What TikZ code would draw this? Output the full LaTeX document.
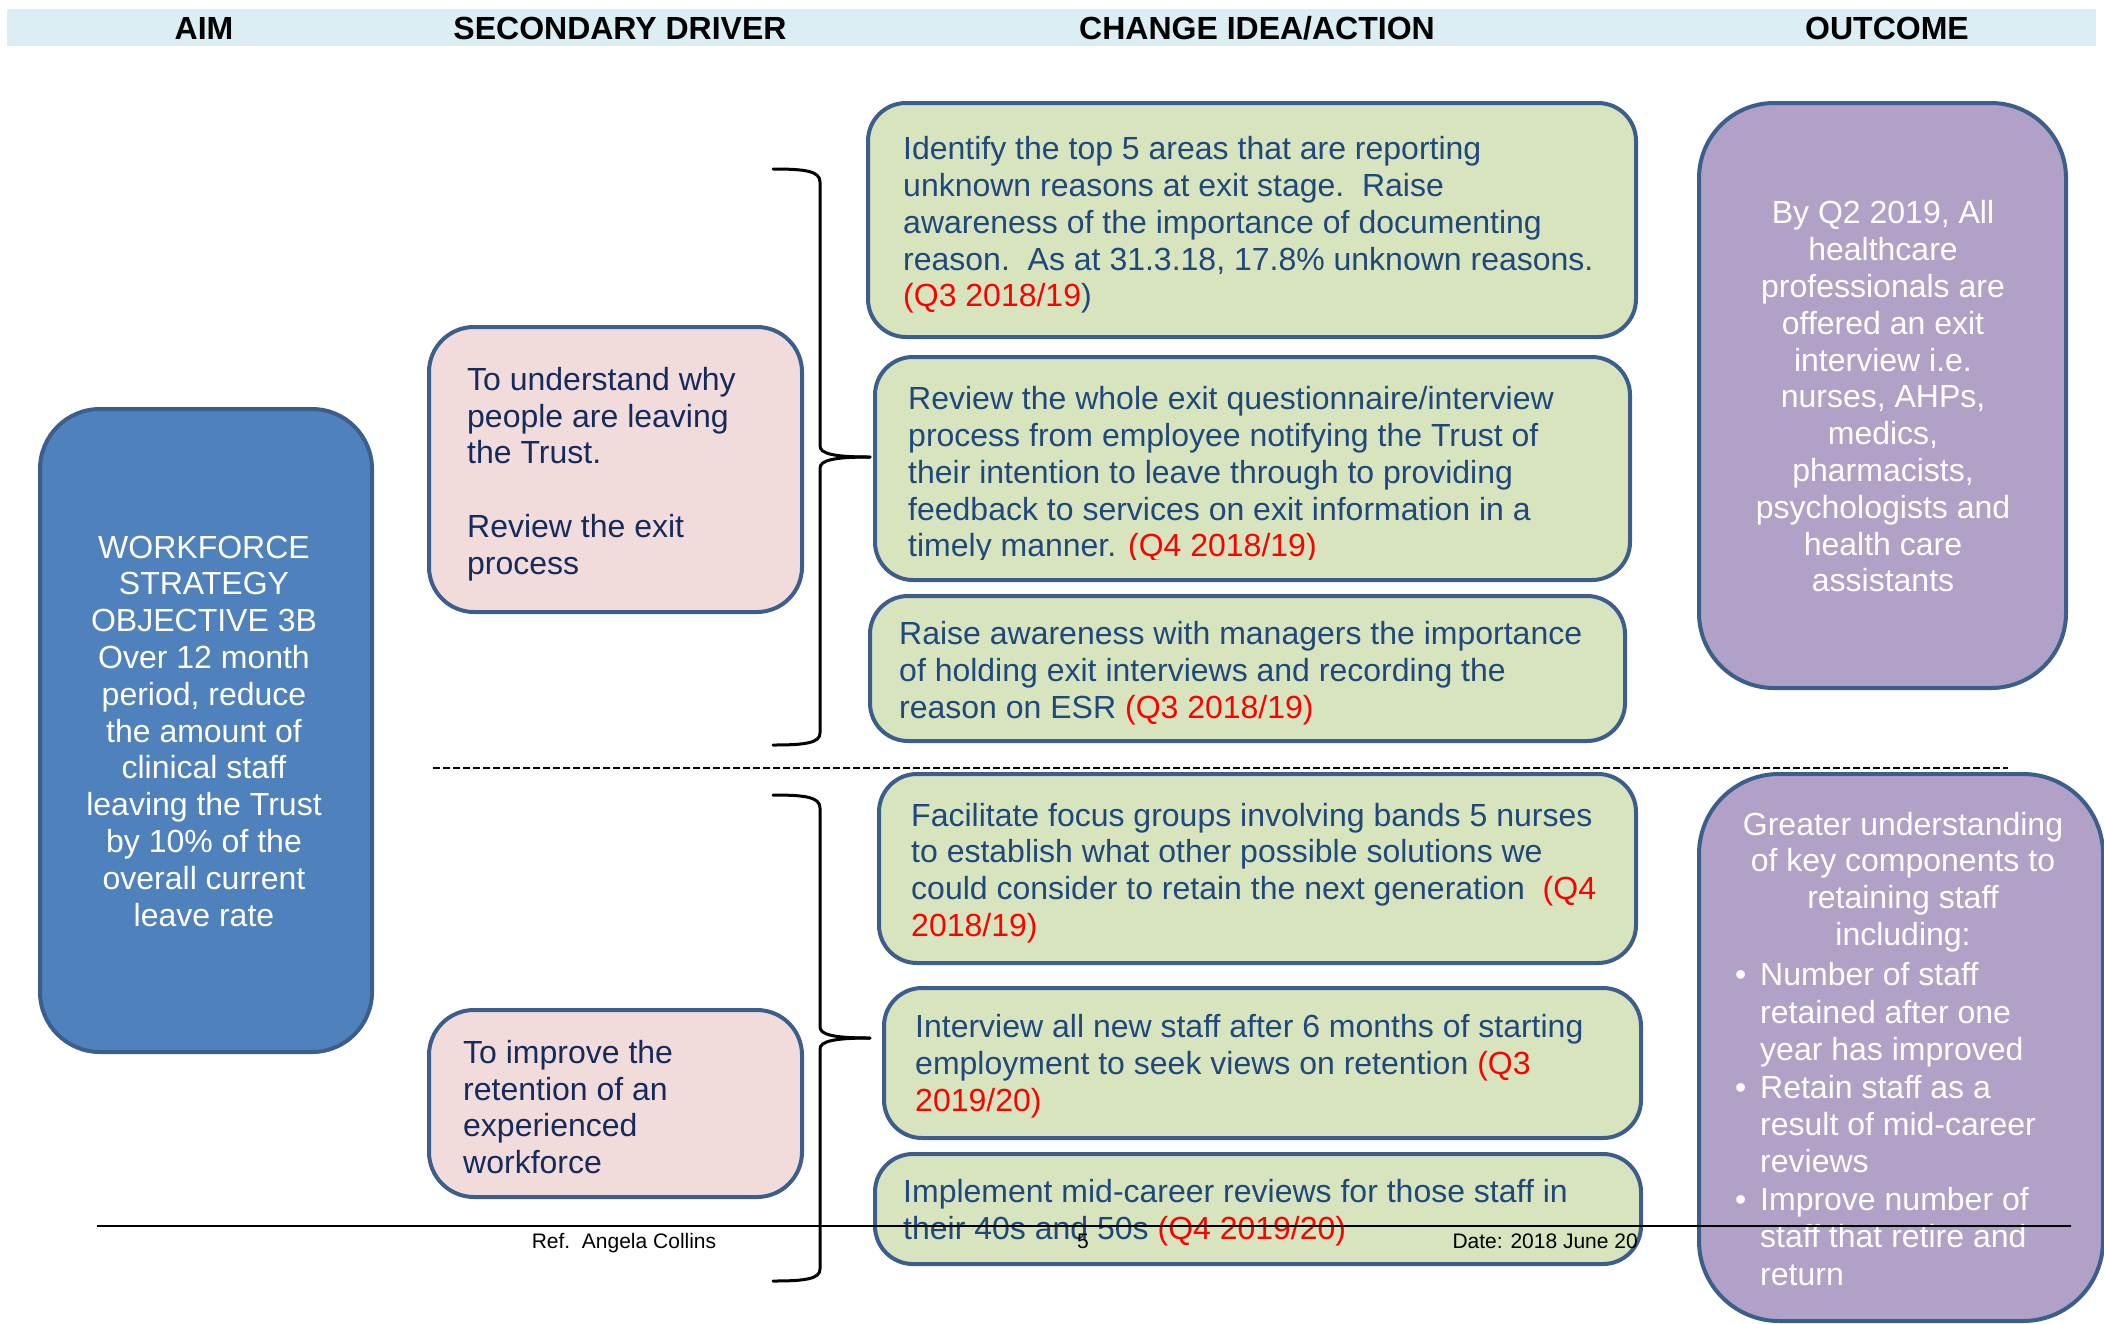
\documentclass[tikz,border=0pt]{standalone}
\usepackage{fontspec}
\setmainfont{Liberation Sans}
\definecolor{bandc}{HTML}{DBEEF3}
\definecolor{edgec}{HTML}{3B5E8C}
\definecolor{aimc}{HTML}{4F81BD}
\definecolor{pinkc}{HTML}{F2DCDB}
\definecolor{greenc}{HTML}{D7E4BD}
\definecolor{purplec}{HTML}{B2A1C7}
\definecolor{gtxt}{HTML}{1F497D}
\definecolor{ptxt}{HTML}{142B5C}
\definecolor{qred}{HTML}{FF0000}
\begin{document}
\begin{tikzpicture}[x=1pt,y=-1pt,
  card/.style={draw=edgec, line width=4pt, inner sep=0pt, rounded corners=#1},
  aimbox/.style={card=60pt, fill=aimc},
  drvbox/.style={card=45pt, fill=pinkc},
  ideabox/.style={card=38pt, fill=greenc},
  outbox/.style={card=75pt, fill=purplec},
  body/.style={inner sep=0pt, font=\fontsize{32}{36.8}\selectfont},
  ideatext/.style={body, align=left, anchor=west, text=gtxt},
  drvtext/.style={body, align=left, anchor=west, text=ptxt},
  whitetext/.style={body, align=center, text=white},
  head/.style={inner sep=0pt, font=\bfseries\fontsize{32}{36}\selectfont},
  foot/.style={inner sep=0pt, anchor=base, font=\fontsize{21}{24}\selectfont},
  bracket/.style={line width=3pt, line cap=round},
]
\useasboundingbox (0,0) rectangle (2104,1323);

% column header band
\fill[bandc] (7,9) rectangle (2096,46);
\node[head] (hAim) at (204,28) {AIM};
\node[head] (hDrv) at (620,28) {SECONDARY DRIVER};
\node[head] (hIdea) at (1257,28) {CHANGE IDEA/ACTION};
\node[head] (hOut) at (1887,28) {OUTCOME};

% aim
\node[aimbox, minimum width=332pt, minimum height=643pt] (aim) at (206,730.5) {};
\node[whitetext] (aimT) at (204,731) {WORKFORCE\\STRATEGY\\OBJECTIVE 3B\\Over 12 month\\period, reduce\\the amount of\\clinical staff\\leaving the Trust\\by 10\% of the\\overall current\\leave rate};

% secondary drivers
\node[drvbox, minimum width=373pt, minimum height=285pt] (drv1) at (615.5,469.5) {};
\node[drvtext] (drv1T) at (467,474) {To understand why\\people are leaving\\the Trust.\\[36.8pt]Review the exit\\process};
\node[drvbox, minimum width=373pt, minimum height=187pt] (drv2) at (615.5,1103.5) {};
\node[drvtext] (drv2T) at (463,1107) {To improve the\\retention of an\\experienced\\workforce};

% change ideas
\node[ideabox, minimum width=768pt, minimum height=234pt] (g1) at (1252,220) {};
\node[ideatext] (g1T) at (903,225) {Identify the top 5 areas that are reporting\\unknown reasons at exit stage.\ \ Raise\\awareness of the importance of documenting\\reason.\ \ As at 31.3.18, 17.8\% unknown reasons.\\\textcolor{qred}{(Q3 2018/19})};

\node[ideabox, minimum width=755pt, minimum height=223pt] (g2) at (1252.5,468.5) {};
\begin{scope}
  \clip (875,357) rectangle (1630,559);
  \node[ideatext] (g2T) at (908,475) {Review the whole exit questionnaire/interview\\process from employee notifying the Trust of\\their intention to leave through to providing\\feedback to services on exit information in a\\timely manner. \textcolor{qred}{(Q4 2018/19)}};
\end{scope}

\node[ideabox, minimum width=755pt, minimum height=145pt] (g3) at (1247.5,668.5) {};
\node[ideatext] (g3T) at (899,673) {Raise awareness with managers the importance\\of holding exit interviews and recording the\\reason on ESR \textcolor{qred}{(Q3 2018/19)}};

\node[ideabox, minimum width=757pt, minimum height=189pt] (g4) at (1257.5,868.5) {};
\node[ideatext] (g4T) at (911,873) {Facilitate focus groups involving bands 5 nurses\\to establish what other possible solutions we\\could consider to retain the next generation\ \ \textcolor{qred}{(Q4}\\\textcolor{qred}{2018/19)}};

\node[ideabox, minimum width=757pt, minimum height=150pt] (g5) at (1262.5,1063) {};
\node[ideatext] (g5T) at (915,1066) {Interview all new staff after 6 months of starting\\employment to seek views on retention \textcolor{qred}{(Q3}\\\textcolor{qred}{2019/20)}};

\node[ideabox, minimum width=766pt, minimum height=110pt] (g6) at (1258,1209) {};
\node[ideatext] (g6T) at (903,1213) {Implement mid-career reviews for those staff in\\their 40s and 50s \textcolor{qred}{(Q4 2019/20)}};

% outcomes
\node[outbox, minimum width=367pt, minimum height=585pt] (out1) at (1882.5,395.5) {};
\node[whitetext] (out1T) at (1883,396.5) {By Q2 2019, All\\healthcare\\professionals are\\offered an exit\\interview i.e.\\nurses, AHPs,\\medics,\\pharmacists,\\psychologists and\\health care\\assistants};

\node[outbox, card=80pt, minimum width=404pt, minimum height=547pt] (out2) at (1901,1047.5) {};
\node[whitetext] (out2T) at (1903,882) {Greater understanding\\of key components to\\retaining staff\\including:};
\node[inner sep=0pt, font=\fontsize{32}{37.4}\selectfont, align=left, anchor=west, text=white] (out2L) at (1760,1124) {%
\llap{\textbullet\hspace{14pt}}Number of staff\\retained after one\\year has improved\\%
\llap{\textbullet\hspace{14pt}}Retain staff as a\\result of mid-career\\reviews\\%
\llap{\textbullet\hspace{14pt}}Improve number of\\staff that retire and\\return};

% brackets gathering each group of change ideas
\coordinate (b1tip) at (870,457);
\coordinate (b2tip) at (870,1038);
\draw[bracket] (773,169) .. controls (805,169) and (820,171) .. (820,182)
  -- (820,446) .. controls (820,454) and (835,457) .. (b1tip);
\draw[bracket] (b1tip) .. controls (835,457) and (820,460) .. (820,468)
  -- (820,733) .. controls (820,743) and (805,745) .. (773,745);
\draw[bracket] (773,795) .. controls (805,795) and (820,797) .. (820,808)
  -- (820,1027) .. controls (820,1035) and (835,1038) .. (b2tip);
\draw[bracket] (b2tip) .. controls (835,1038) and (820,1041) .. (820,1049)
  -- (820,1269) .. controls (820,1279) and (805,1281) .. (773,1281);

% separator between the two driver groups
\draw[line width=2pt, dash pattern=on 7pt off 3pt] (433,768) -- (2008,768);

% page footer
\draw[line width=2.5pt] (97,1226) -- (2071,1226);
\node[foot] (ref) at (624,1248) {Ref.\ \ Angela Collins};
\node[foot] (page) at (1083,1248) {5};
\node[foot, anchor=base east] (date) at (1638,1248) {Date: 2018 June 20};
\end{tikzpicture}
\end{document}
